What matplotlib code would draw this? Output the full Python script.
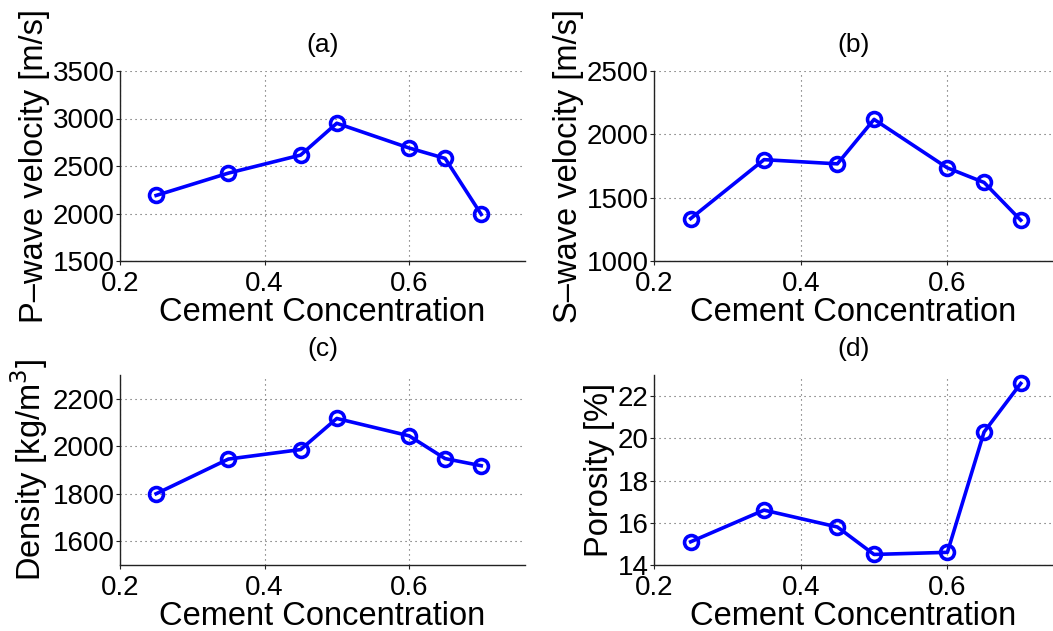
import numpy as np
import matplotlib
matplotlib.use('Agg')
import matplotlib.pyplot as plt

plt.rcParams['font.family'] = ['Liberation Sans', 'DejaVu Sans']

# cement concentration of the samples
cement = [0.25, 0.35, 0.45, 0.5, 0.6, 0.65, 0.7]

vp = [2190, 2425, 2615, 2950, 2690, 2580, 1990]        # m/s
vs = [1335, 1800, 1767, 2118, 1735, 1620, 1322]        # m/s
density = [1800, 1946, 1986, 2117, 2044, 1948, 1918]   # kg/m^3
porosity = [15.1, 16.6, 15.8, 14.5, 14.6, 20.3, 22.6]  # %

panels = [
    ('(a)', vp, 'P\u2013wave velocity [m/s]', (1500, 3500), [1500, 2000, 2500, 3000, 3500]),
    ('(b)', vs, 'S\u2013wave velocity [m/s]', (1000, 2500), [1000, 1500, 2000, 2500]),
    ('(c)', density, 'Density [kg/m$^3$]', (1500, 2300), [1600, 1800, 2000, 2200]),
    ('(d)', porosity, 'Porosity [%]', (14, 23), [14, 16, 18, 20, 22]),
]

W, H = 1053, 631
fig = plt.figure(figsize=(W / 100, H / 100), dpi=100)

# axes boxes in pixels: left, right, top, bottom
boxes = [(120, 525, 71, 261), (654, 1053, 71, 261),
         (120, 525, 375, 565), (654, 1053, 375, 565)]
px_per_02 = [144.5, 146.7, 144.5, 146.7]

for (title, y, ylab, ylim, yt), (l, r, t, b), pp in zip(panels, boxes, px_per_02):
    ax = fig.add_axes([l / W, 1 - b / H, (r - l) / W, (b - t) / H])
    ax.plot(cement, y, '-o', color='#0000ff', lw=2.6, ms=10,
            mfc='none', mec='#0000ff', mew=2.6, clip_on=False, zorder=3)
    ax.set_xlim(0.2, 0.2 + (r - l) / pp * 0.2)
    ax.set_ylim(*ylim)
    ax.set_xticks([0.2, 0.4, 0.6])
    ax.set_xticklabels(['0.2', '0.4', '0.6'])
    ax.set_yticks(yt)
    ax.grid(True, ls=(0, (1, 3.5)), color='#555555', lw=0.8)
    ax.set_axisbelow(True)
    for s in ['top', 'right']:
        ax.spines[s].set_visible(False)
    for s in ['left', 'bottom']:
        ax.spines[s].set_color('#222222')
        ax.spines[s].set_linewidth(1.0)
    ax.tick_params(direction='out', length=3, width=0.8, labelsize=20,
                   colors='#222222', labelcolor='black')
    ax.tick_params(axis='y', pad=1)
    ax.tick_params(axis='x', pad=4)
    ax.set_xlabel('Cement Concentration', fontsize=23.5, labelpad=0)
    ax.set_ylabel(ylab, fontsize=23.5, labelpad=2)
    ax.set_title(title, fontsize=19, pad=14)

fig.savefig('out.png', dpi=100)
